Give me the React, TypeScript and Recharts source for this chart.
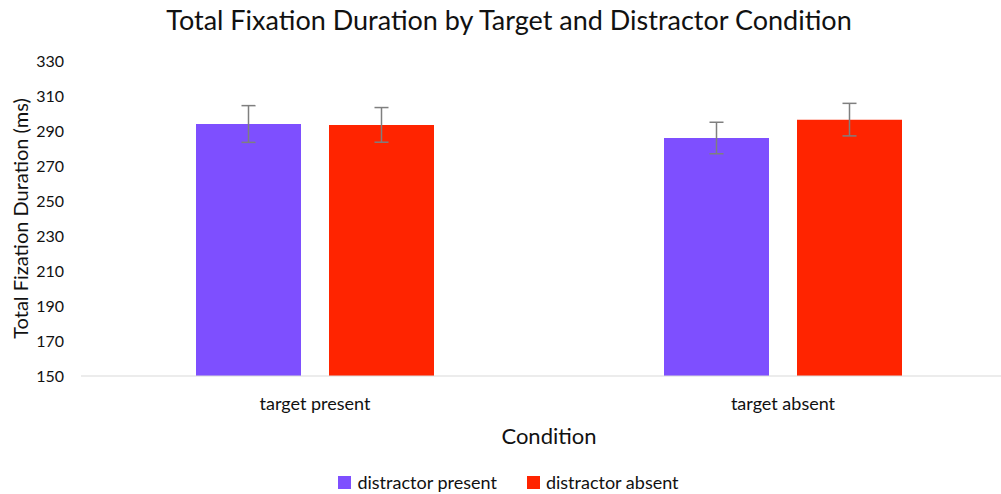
import { BarChart, Bar, XAxis, YAxis, ErrorBar, Legend, Label } from "recharts";

const conditions = ["target present", "target absent"];
const distractorPresent = [294, 286];
const distractorPresentErr = [10.5, 9];
const distractorAbsent = [293.5, 296.5];
const distractorAbsentErr = [9.9, 9.3];
const yTicks = [150, 170, 190, 210, 230, 250, 270, 290, 310, 330];

const PURPLE = "#7e4fff";
const RED = "#ff2400";
const FONT = "Lato, 'Open Sans', sans-serif";

const data = conditions.map((c, i) => ({
  name: c,
  present: distractorPresent[i],
  presentErr: distractorPresentErr[i],
  absent: distractorAbsent[i],
  absentErr: distractorAbsentErr[i],
}));

function LegendContent() {
  const items = [
    { label: "distractor present", color: PURPLE },
    { label: "distractor absent", color: RED },
  ];
  return (
    <div style={{ display: "flex", justifyContent: "center", gap: 30, height: 38, paddingTop: 14, boxSizing: "border-box", alignItems: "center", fontFamily: FONT, fontSize: 18, color: "#111" }}>
      {items.map((it) => (
        <div key={it.label} style={{ display: "flex", alignItems: "center", gap: 6 }}>
          <span style={{ width: 13, height: 13, background: it.color, display: "inline-block" }} />
          <span>{it.label}</span>
        </div>
      ))}
    </div>
  );
}

export default function App() {
  return (
    <div style={{ position: "absolute", left: 0, top: 0, width: 1001, height: 494, overflow: "hidden", background: "#fff" }}>
      <div style={{ position: "absolute", left: 0, top: 3, width: 1018, textAlign: "center", fontFamily: FONT, fontSize: 27, color: "#111" }}>
        Total Fixation Duration by Target and Distractor Condition
      </div>
      <BarChart width={1017} height={494} data={data} margin={{ top: 61, right: 0, left: 0, bottom: 0 }} barSize={105} barGap={28}>
        <XAxis
          dataKey="name"
          height={80}
          tickLine={false}
          axisLine={{ stroke: "#d9d9d9" }}
          tick={{ fill: "#111", fontSize: 18, fontFamily: FONT }}
          tickMargin={15}
        >
          <Label value="Condition" position="insideBottom" offset={12} style={{ fill: "#111", fontSize: 22, fontFamily: FONT }} />
        </XAxis>
        <YAxis
          width={81}
          domain={[150, 330]}
          ticks={yTicks}
          interval={0}
          tickLine={false}
          axisLine={false}
          tick={{ fill: "#111", fontSize: 16, fontFamily: FONT }}
          tickMargin={11}
        >
          <Label
            content={({ viewBox }: any) => (
              <text
                x={20}
                y={viewBox.y + viewBox.height / 2}
                transform={`rotate(-90, 20, ${viewBox.y + viewBox.height / 2})`}
                textAnchor="middle"
                dominantBaseline="central"
                style={{ fill: "#111", fontSize: 20, fontFamily: FONT }}
              >
                Total Fization Duration (ms)
              </text>
            )}
          />
        </YAxis>
        <Legend verticalAlign="bottom" content={<LegendContent />} />
        <Bar dataKey="present" fill={PURPLE} isAnimationActive={false}>
          <ErrorBar dataKey="presentErr" width={7} stroke="#7f7f7f" strokeWidth={1.5} />
        </Bar>
        <Bar dataKey="absent" fill={RED} isAnimationActive={false}>
          <ErrorBar dataKey="absentErr" width={7} stroke="#7f7f7f" strokeWidth={1.5} />
        </Bar>
      </BarChart>
    </div>
  );
}
